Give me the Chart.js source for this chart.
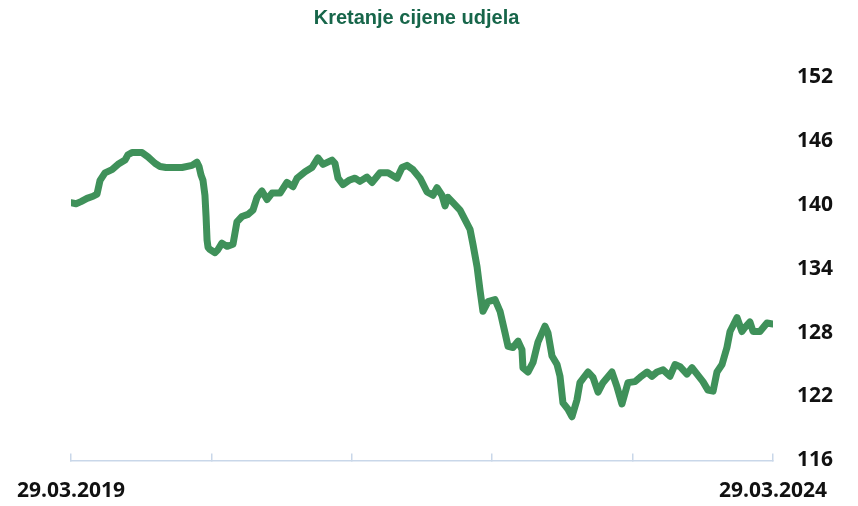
<!DOCTYPE html>
<html>
<head>
<meta charset="utf-8">
<script src="https://cdn.jsdelivr.net/npm/chart.js@4"></script>
<style>
  html, body { margin: 0; padding: 0; background: #fff; }
  #wrap { width: 858px; height: 506px; }
</style>
</head>
<body>
<div id="wrap"><canvas id="priceChart" width="858" height="506"></canvas></div>
<script>
// years since 29.03.2019 and share price
const years = [0, 0.036, 0.071, 0.114, 0.157, 0.185, 0.207, 0.242, 0.292, 0.335, 0.385, 0.406, 0.434, 0.506, 0.548, 0.598,
  0.634, 0.677, 0.719, 0.791, 0.862, 0.897, 0.912, 0.926, 0.940, 0.954, 0.962, 0.969, 0.976, 0.990, 1.026, 1.047,
  1.075, 1.111, 1.154, 1.182, 1.218, 1.261, 1.296, 1.325, 1.360, 1.396, 1.432, 1.489, 1.538, 1.581, 1.610, 1.667,
  1.716, 1.759, 1.795, 1.859, 1.880, 1.902, 1.937, 1.980, 2.023, 2.058, 2.108, 2.144, 2.201, 2.258, 2.322, 2.358,
  2.393, 2.436, 2.486, 2.536, 2.578, 2.607, 2.642, 2.664, 2.685, 2.721, 2.771, 2.806, 2.842, 2.863, 2.892, 2.913,
  2.934, 2.970, 3.020, 3.056, 3.091, 3.113, 3.148, 3.184, 3.212, 3.219, 3.255, 3.291, 3.326, 3.376, 3.397, 3.426,
  3.462, 3.483, 3.504, 3.540, 3.568, 3.604, 3.625, 3.682, 3.718, 3.754, 3.789, 3.853, 3.889, 3.924, 3.967, 4.017,
  4.053, 4.103, 4.138, 4.174, 4.217, 4.266, 4.302, 4.338, 4.387, 4.423, 4.459, 4.501, 4.537, 4.573, 4.601, 4.637,
  4.672, 4.694, 4.744, 4.779, 4.801, 4.836, 4.858, 4.907, 4.957, 5.0];
const prices = [140.2, 140.1, 140.3, 140.6, 140.8, 141.0, 142.3, 143.0, 143.3, 143.8, 144.2, 144.7, 144.9, 144.9, 144.5, 143.9,
  143.6, 143.5, 143.5, 143.5, 143.7, 144.0, 143.6, 142.8, 142.3, 140.9, 138.9, 136.7, 136.0, 135.8, 135.5, 135.8,
  136.4, 136.1, 136.3, 138.4, 138.9, 139.1, 139.5, 140.7, 141.3, 140.5, 141.1, 141.1, 142.1, 141.7, 142.5, 143.1,
  143.5, 144.4, 143.8, 144.2, 143.9, 142.5, 141.9, 142.3, 142.5, 142.2, 142.6, 142.1, 143.0, 143.0, 142.5, 143.5,
  143.7, 143.3, 142.5, 141.2, 140.9, 141.6, 140.9, 139.9, 140.7, 140.2, 139.5, 138.6, 137.7, 136.3, 134.2, 132.0,
  130.0, 130.9, 131.1, 130.0, 128.0, 126.7, 126.6, 127.2, 126.4, 124.7, 124.3, 125.2, 127.1, 128.6, 128.0, 125.8,
  125.0, 123.9, 121.4, 120.8, 120.1, 121.7, 123.3, 124.3, 123.8, 122.4, 123.3, 124.3, 122.9, 121.3, 123.3, 123.4,
  123.8, 124.3, 123.9, 124.3, 124.5, 123.9, 125.0, 124.8, 124.1, 124.7, 124.1, 123.4, 122.6, 122.5, 124.3, 125.0,
  126.6, 128.1, 129.4, 128.1, 128.5, 129.0, 128.1, 128.1, 128.9, 128.8];
const dateLabels = ['29.03.2019', '29.03.2024'];
const yTicks = { min: 116, max: 152, step: 6 };

const points = years.map((t, i) => ({ x: t, y: prices[i] }));
const tickFont = { family: 'Open Sans', size: 21, weight: 'bold' };

new Chart(document.getElementById('priceChart').getContext('2d'), {
    type: 'line',
    data: {
        datasets: [{
            data: points,
            borderColor: '#3f915a',
            borderWidth: 7,
            pointRadius: 0,
            tension: 0,
            borderJoinStyle: 'round',
            borderCapStyle: 'round'
        }]
    },
    options: {
        responsive: false,
        animation: false,
        layout: {
            padding: { left: 0, right: 25, top: 0, bottom: 2 }
        },
        plugins: {
            legend: { display: false },
            tooltip: { enabled: false },
            title: {
                display: true,
                text: 'Kretanje cijene udjela',
                color: '#17664a',
                font: { family: 'Liberation Sans', size: 20, weight: 'bold' },
                padding: { top: 6, bottom: 47 }
            }
        },
        scales: {
            x: {
                type: 'linear',
                min: 0,
                max: 5,
                grid: {
                    drawOnChartArea: false,
                    color: '#c9d7e9',
                    lineWidth: 1.5,
                    tickLength: -7
                },
                border: { display: true, color: '#c9d7e9', width: 1.5 },
                ticks: {
                    stepSize: 1,
                    autoSkip: false,
                    maxRotation: 0,
                    padding: 25.4,
                    color: '#111',
                    font: tickFont,
                    callback: v => v === 0 ? dateLabels[0] : (v === 5 ? dateLabels[1] : '')
                },
                afterFit: s => {
                    s.height = 43.6;
                    s.paddingLeft = 71;
                    s.paddingRight = 0;
                }
            },
            y: {
                position: 'right',
                min: yTicks.min,
                max: yTicks.max,
                grid: { display: false, drawTicks: false },
                border: { display: false },
                ticks: {
                    stepSize: yTicks.step,
                    padding: 24,
                    color: '#111',
                    font: tickFont
                },
                afterFit: s => {
                    s.width = 60;
                    s.paddingTop = 0;
                    s.paddingBottom = 0;
                }
            }
        }
    }
});
</script>
</body>
</html>
